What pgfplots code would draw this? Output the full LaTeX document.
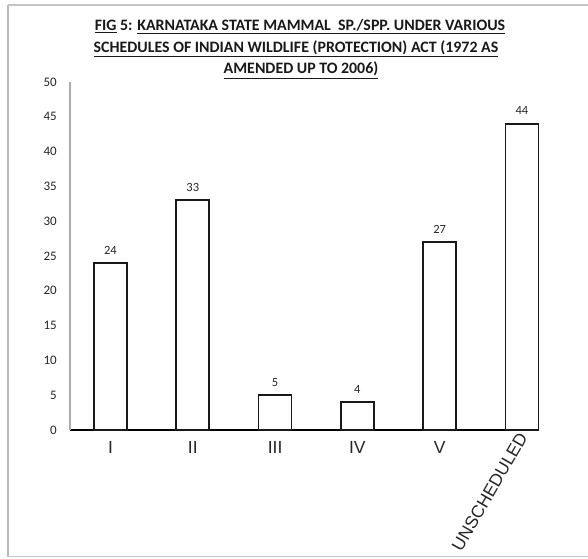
\documentclass[border=0pt]{standalone}
\usepackage{fontspec}
\setmainfont{Carlito}
\newfontfamily\arialf{Liberation Sans}
\usepackage{pgfplots}
\pgfplotsset{compat=1.18}
\begin{document}
\begin{tikzpicture}[x=1pt,y=1pt]
\useasboundingbox (0,0) rectangle (588,558);
\fill[white] (0,0) rectangle (588,558);
\draw[gray!55, line width=1.6pt] (8,1.5) -- (8,553);
\draw[gray!45, line width=1.4pt] (8,553) -- (588,553);
\draw[gray!45, line width=1.2pt] (8,1.5) -- (588,1.5);
\begin{axis}[
  at={(70pt,128pt)}, anchor=south west, scale only axis,
  width=469pt, height=348pt,
  xmin=-0.492, xmax=5.207, ymin=0, ymax=50,
  axis x line=bottom, axis y line=left,
  x axis line style={-, black, line width=2pt},
  y axis line style={-, gray!65, line width=1.2pt},
  major tick length=0pt,
  xtick={0,1,2,3,4}, xticklabels={I,II,III,IV,V},
  extra x ticks={5}, extra x tick labels={UNSCHEDULED},
  extra x tick style={xticklabel style={yshift=7pt, xshift=1pt, rotate=60, anchor=east}},
  xticklabel style={font=\arialf\fontsize{17.5}{20}\selectfont, anchor=north, inner sep=0pt, yshift=-11pt, text=black!85},
  ytick={0,5,...,50},
  yticklabel style={font=\fontsize{13}{14}\selectfont, anchor=east, inner sep=0pt, xshift=-13pt, text=black!85},
  /pgf/number format/assume math mode=true,
  ybar, bar width=33pt,
  nodes near coords,
  every node near coord/.append style={font=\fontsize{12.5}{14}\selectfont, anchor=south, inner sep=0pt, yshift=8pt, text=black!85},
  clip=false,
]
\addplot[draw=black!90, fill=white, line width=1.8pt] coordinates {(0,24) (1,33) (2,5) (3,4) (4,27) (5,44)};
\end{axis}
\begin{scope}[every node/.style={font=\bfseries\fontsize{15.9}{18}\selectfont, anchor=base, inner sep=0pt, text=black!90}]
\node at (300,527) {\underline{FIG} 5: \underline{KARNATAKA STATE MAMMAL\ \ SP./SPP. UNDER VARIOUS}};
\node at (296,505.5) {\underline{SCHEDULES OF INDIAN WILDLIFE (PROTECTION) ACT (1972 AS}};
\node at (301,484) {\underline{AMENDED UP TO 2006)}};
\end{scope}
\end{tikzpicture}
\end{document}
